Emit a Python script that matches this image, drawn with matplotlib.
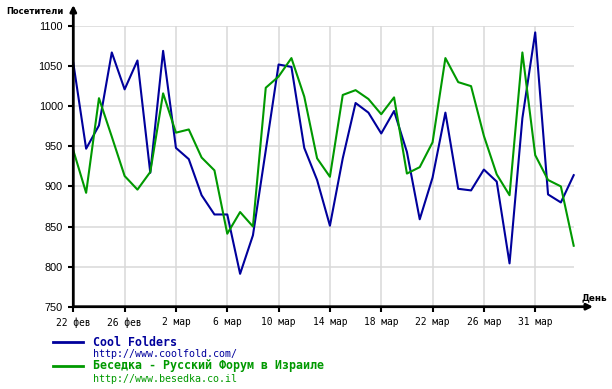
import matplotlib
matplotlib.use("Agg")
import matplotlib.pyplot as plt
from matplotlib.lines import Line2D

# ---- data ----
days = list(range(40))
tick_days = [0, 4, 8, 12, 16, 20, 24, 28, 32, 36]
tick_labels = ['22 фев', '26 фев', '2 мар', '6 мар', '10 мар', '14 мар',
               '18 мар', '22 мар', '26 мар', '31 мар']
y_ticks = [750, 800, 850, 900, 950, 1000, 1050, 1100]

cool_folders = [1054, 947, 976, 1067, 1021, 1057, 917, 1069, 948, 934,
                889, 865, 865, 791, 839, 945, 1052, 1049, 948, 908,
                851, 935, 1004, 992, 966, 994, 943, 859, 911, 992,
                897, 895, 921, 906, 804, 985, 1092, 890, 880, 914]
besedka = [945, 892, 1010, 962, 913, 896, 918, 1016, 967, 971,
           936, 920, 841, 868, 850, 1023, 1037, 1060, 1012, 935,
           912, 1014, 1020, 1009, 990, 1011, 916, 924, 955, 1060,
           1030, 1025, 963, 915, 889, 1067, 939, 908, 900, 826]

series_names = ['Cool Folders', 'Беседка - Русский Форум в Израиле']
series_urls = ['http://www.coolfold.com/', 'http://www.besedka.co.il']
colors = ['#00009c', '#009900']

W, H = 612, 389
fig = plt.figure(figsize=(W / 100, H / 100), dpi=100)
fig.patch.set_facecolor('white')

x0, x1 = 73.3, 573.7
y_top, y_bot = 26.0, 306.7
ax = fig.add_axes([x0 / W, 1 - y_bot / H, (x1 - x0) / W, (y_bot - y_top) / H])
ax.set_xlim(0, 39)
ax.set_ylim(750, 1100)

for s in ax.spines.values():
    s.set_visible(False)

ax.set_xticks(tick_days)
ax.set_xticklabels(tick_labels, fontfamily='DejaVu Sans Mono', fontsize=6.9)
ax.set_yticks(y_ticks)
ax.set_yticklabels([str(v) for v in y_ticks], fontfamily='Liberation Sans', fontsize=7.8)
ax.tick_params(axis='both', length=3.5, width=1.5, color='black', direction='out')
ax.tick_params(axis='y', pad=4)
ax.tick_params(axis='x', pad=4)
ax.grid(True, color='#d9d9d9', linewidth=1.1)
ax.set_axisbelow(True)

ax.plot(days, cool_folders, color=colors[0], linewidth=1.5, zorder=3, clip_on=False)
ax.plot(days, besedka, color=colors[1], linewidth=1.5, zorder=3, clip_on=False)

# axis lines with arrows
ax.annotate('', xy=(0, (y_bot - 5) / (y_bot - y_top)), xytext=(0, 0),
            xycoords='axes fraction', textcoords='axes fraction',
            arrowprops=dict(arrowstyle='-|>', lw=2, color='black',
                            mutation_scale=9, shrinkA=0, shrinkB=0), zorder=5)
ax.annotate('', xy=((593 - x0) / (x1 - x0), 0), xytext=(0, 0),
            xycoords='axes fraction', textcoords='axes fraction',
            arrowprops=dict(arrowstyle='-|>', lw=2, color='black',
                            mutation_scale=9, shrinkA=0, shrinkB=0), zorder=5)

fig.text(6 / W, 1 - 11 / H, 'Посетители', fontsize=6.0, fontweight='bold',
         ha='left', va='center', fontfamily='DejaVu Sans')
fig.text(607 / W, 1 - 298 / H, 'День', fontsize=6.4, fontweight='bold',
         ha='right', va='center', fontfamily='DejaVu Sans')

# legend
leg_rows = [(342, 354), (366, 378.5)]
for (ly, uy), name, url, c in zip(leg_rows, series_names, series_urls, colors):
    fig.add_artist(Line2D([53 / W, 83 / W], [1 - ly / H, 1 - ly / H],
                          color=c, linewidth=2, transform=fig.transFigure))
    fig.text(93 / W, 1 - ly / H, name, color=c, fontsize=8.4, fontweight='bold',
             fontfamily='DejaVu Sans Mono', ha='left', va='center')
    fig.text(93 / W, 1 - uy / H, url, color=c, fontsize=7.2,
             fontfamily='DejaVu Sans Mono', ha='left', va='center')

fig.savefig('out.png', dpi=100)
